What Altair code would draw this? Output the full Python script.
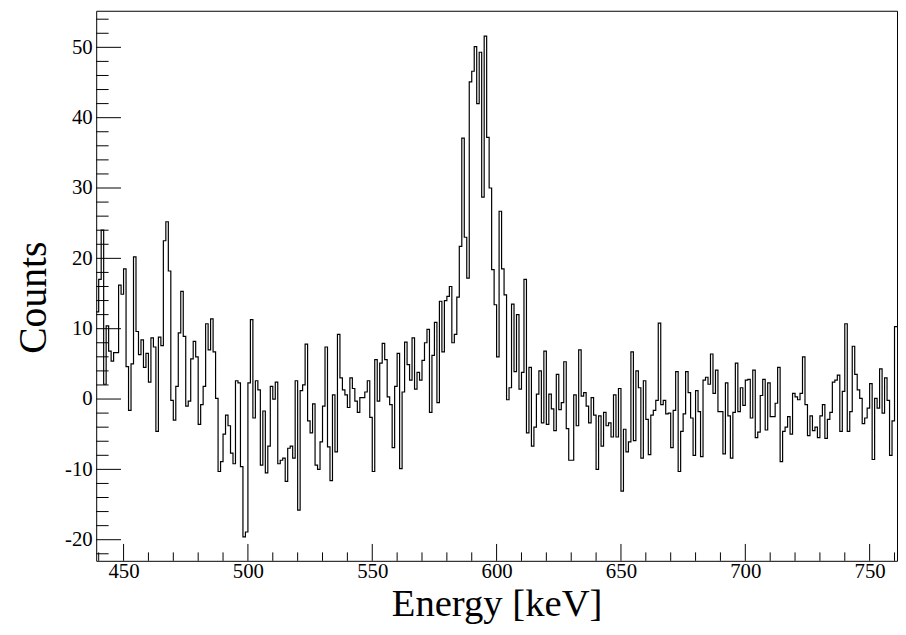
import altair as alt
import pandas as pd

# Histogram: 1 keV bins starting at 439 keV
bin_start = 439.0
bin_width = 1.0

counts_a = [12.4, 17, 24, 2.1, 10.4, 6.8, 5.4, 6.6, 6.6, 16.2,
            14.9, 18.5, 4.6, -1.6, 5.0, 20.2, 9.6, 6.3, 8.4, 4.5,
            6.5, 2.4, 8.7, 7.4, -4.6, 8.8, 7.6, 22.5, 25.2, 18.2,
            -0.2, -3.0, 1.8, 9.4, 15.3, 8.9, -1.0, -0.3, 5.7, 8.2,
            6.0, -3.6, -0.8, 1.8, 10.7, 7.0, 11.4, 6.7, 0.1, -10.3,
            -8.9, -5.0, -2.3]
counts_b = [-3.8, -7.7, -9.2, 2.6, 2.3, -9.6, -19.6, -18.9, 2.3, 11.3,
            -2.7, 2.6, 1.3, -9.4, -1.7, -10.5, -6.7, 1.8, 0.0, 2.4,
            -9.2, -8.7, -8.4, -11.7, -7.0, -6.7, -8.4, 2.6, -15.8, 1.2,
            2.0, 7.8, -3.1, -4.8, -0.7, -9.4, -10.0, -6.1, -1.0, 7.4,
            -6.8, -11.6, 0.6, -7.5]
counts_c = [9.2, 3.0, 1.3, 0.6, -1.2, 3.0, 1.5, -0.3, -1.9, 0.2,
            0.2, 1.0, 2.6, -2.6, -10.3, 5.6, -0.3, 5.1, 7.9, 5.6,
            0.3, -0.8, -6.9, 1.8, 6.5, -9.9, 1.0, 8.1, 4.9, 2.7,
            8.7, 1.4, 3.8, 2.7, 5.5, 8.0, 9.9, -1.9, 6.2, 10.9,
            -0.5, 13.9, 6.7, 14.0, 14.6, 16.0, 8.0, 9.2, 14.5]
counts_d = [21.7, 37.1, 23.0, 17.2, 45.1, 46.6, 50.1, 42.0, 49.3, 28.7,
            51.6, 37.2, 30.0, 18.4, 13.4, 6.0, 26.7, 18.5, 14.8, -0.1,
            1.6, 13.5, 3.9, 12.0, 1.4, 3.8, 17.0, -4.8, 4.5, -6.7,
            -4.0, 0.7, 4.0, -3.4, 6.8, -3.6, 0.7, -1.4, -4.5, 3.5,
            -1.5, -0.5, 5.3, -4.2, -8.7, -8.7]
counts_e = [0.6, -3.8, 7.0, 0.4, 0.9, -1.0, -3.4, 0.2, -2.3, -10.0,
            -2.4, -6.7, -1.9, -3.8, -3.4, -5.4, 0.6, -5.4, 1.5, -13.1,
            -4.3, -7.5, -6.1, 6.7, -5.9, 4.0, 1.6, -8.4, 2.6, -2.9,
            -7.9, -2.3, -1.6, -0.2, 10.8, -0.8, -0.2, -2.1, -2.0, -6.9,
            -1.6, 3.9, -10.3, -4.6, -2.1, 3.9, 0.9, -2.7, -8.0, 1.2]
counts_f = [-1.8, -8.2, 2.7, 3.1, 2.1, 6.4, 0.8, 4.1, -1.8, -1.8,
            -7.8, 2.3, -2.4, -8.4, -1.9, 5.1, -1.8, 1.6, -0.9, 2.7,
            2.8, -2.7, 4.1, -5.5, -4.7, 0.5, 2.8, -4.4, 2.3, -2.5,
            -2.5, -0.6, 4.5, -8.9, -4.6, -4.0, -2.5, -5.0, 0.8, 0.3,
            -0.1, 0.8, 6.0, -0.8, -5.2, -2.4, -4.5, -4.0, -5.5, -2.4,
            -0.8, -5.6, -2.9, -1.9, 2.4, 2.7, 3.4, -4.6, 1.1, 10.7,
            -4.6, -1.8, 7.5, 3.5, 1.3, 0.1, -3.5, -2.7, -1.3, 2.2,
            -8.6, 0.1, -1.3, 4.3, -2.0, 3.0, -0.2, -8.0, -3.1, 10.3]

counts = counts_a + counts_b + counts_c + counts_d + counts_e + counts_f

x_major = [450, 500, 550, 600, 650, 700, 750]
x_minor = [440, 460, 470, 480, 490, 510, 520, 530, 540, 560, 570, 580, 590,
           610, 620, 630, 640, 660, 670, 680, 690, 710, 720, 730, 740, 760]
y_major = [-20, -10, 0, 10, 20, 30, 40, 50]
y_minor = [-22, -18, -16, -14, -12, -8, -6, -4, -2, 2, 4, 6, 8, 12, 14, 16, 18,
           22, 24, 26, 28, 32, 34, 36, 38, 42, 44, 46, 48, 52, 54]

x_domain = [439, 761]
y_domain = [-23, 55.2]

W, H = 808, 555
FONT = "Liberation Serif"

edges = [bin_start + bin_width * i for i in range(len(counts) + 1)]
hist_df = pd.DataFrame({"energy": edges, "counts": counts + [counts[-1]]})

xs = alt.Scale(domain=x_domain, nice=False, zero=False)
ys = alt.Scale(domain=y_domain, nice=False, zero=False)

x_axis = alt.Axis(
    values=x_major, title="Energy [keV]", domain=False, ticks=False,
    grid=False, labelPadding=0, labelFontSize=21, titleFontSize=39,
    labelFont=FONT, titleFont=FONT, labelColor="black", titleColor="black",
    titleFontWeight="normal", labelExpr="'' + datum.value",
    titleBaseline="alphabetic", titleY=55, labelFlush=False)
y_axis = alt.Axis(
    values=y_major, title="Counts", domain=False, ticks=False,
    grid=False, labelPadding=4, labelFontSize=21, titleFontSize=40,
    labelFont=FONT, titleFont=FONT, labelColor="black", titleColor="black",
    titleFontWeight="normal", labelExpr="'' + datum.value",
    titleBaseline="alphabetic", titleAngle=-90, titleAlign="center",
    titleX=-51, titleY=289, labelFlush=False)

hist = alt.Chart(hist_df).mark_line(
    interpolate="step-after", color="black", strokeWidth=1.2
).encode(
    x=alt.X("energy:Q", scale=xs, axis=x_axis),
    y=alt.Y("counts:Q", scale=ys, axis=y_axis),
)

def xticks(vals, length):
    return alt.Chart(pd.DataFrame({"energy": vals})).mark_rule(
        color="black", strokeWidth=1
    ).encode(x=alt.X("energy:Q", scale=xs, axis=x_axis),
             y=alt.value(H), y2=alt.value(H - length))

def yticks(vals, length):
    return alt.Chart(pd.DataFrame({"counts": vals})).mark_rule(
        color="black", strokeWidth=1
    ).encode(y=alt.Y("counts:Q", scale=ys, axis=y_axis),
             x=alt.value(0), x2=alt.value(length))

chart = alt.layer(
    hist,
    xticks(x_major, 17), xticks(x_minor, 8.5),
    yticks(y_major, 25), yticks(y_minor, 12.5),
).properties(
    width=W, height=H,
    autosize=alt.AutoSizeParams(type="none"),
    padding={"left": 89, "top": 0, "right": 1, "bottom": 64},
    background="white",
).configure_view(
    stroke="black", strokeWidth=1
)

chart.save("out.html", embed_options={"renderer": "svg", "actions": False})
